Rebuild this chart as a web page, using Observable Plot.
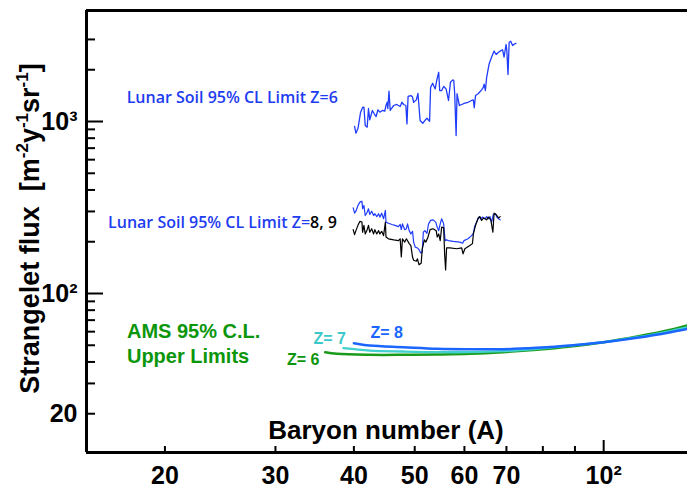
<!DOCTYPE html>
<html><head><meta charset="utf-8">
<script src="https://cdn.jsdelivr.net/npm/d3@7"></script>
<script src="https://cdn.jsdelivr.net/npm/@observablehq/plot@0.6"></script>
<style>
html,body{margin:0;padding:0;background:#fff;}
#chart svg{display:block;}
</style></head><body><div id="chart"></div>
<script>
// ---- scales & ticks ----
const xDomain = [15, 136];
const yDomain = [11.9, 4420];
const xMinorTicks = [20, 30, 40, 50, 60, 70, 80, 90];
const xMajorTicks = [100];
const xTickLabels = [20, 30, 40, 50, 60, 70, 100];
const yMinorTicks = [20, 30, 40, 50, 60, 70, 80, 90, 200, 300, 400, 500, 600, 700, 800, 900, 2000, 3000];
const yMajorTicks = [100, 1000];
const yTickLabels = [20, 100, 1000];

// ---- Lunar soil 95% CL limits [A, flux] ----
const lunarZ6 = [[40.1,936],[40.3,855],[40.6,910],[41.0,1133],[41.3,1207],[41.5,1212],[41.7,948],[42.0,927],[42.2,1190],[42.4,1023],[42.8,1159],[43.1,1109],[43.4,1069],[43.7,1170],[44.0,1133],[44.4,1159],[44.8,1148],[45.0,1239],[45.2,1294],[45.3,1190],[45.5,1500],[45.7,1159],[46.0,1202],[46.3,1239],[46.8,1256],[47.4,1223],[47.7,1294],[48.0,1256],[48.4,1239],[48.6,969],[48.8,1398],[49.3,1416],[49.6,1387],[49.8,1294],[50.3,1336],[50.6,1455],[51.0,1013],[51.5,977],[52.0,1023],[52.3,1045],[52.8,1004],[53.0,1580],[53.4,1669],[53.9,1547],[54.2,1731],[54.6,1933],[54.8,1514],[55.2,1514],[55.6,1599],[56.1,1547],[56.6,1325],[57.0,1692],[57.5,1746],[57.7,1731],[57.9,1450],[58.2,829],[58.4,1450],[58.9,1239],[59.4,1256],[60.1,1280],[60.8,1294],[61.6,1325],[62.0,1336],[62.2,1202],[62.5,1416],[63.1,1450],[63.9,1528],[64.3,1580],[64.5,1650],[64.8,1514],[65.1,1808],[65.7,2167],[66.3,2371],[66.9,2566],[67.4,2452],[68.0,2530],[68.4,2566],[69.0,2614],[69.4,2371],[69.9,2804],[70.1,2587],[70.4,1875],[70.7,2891],[71.1,2930],[71.6,2766],[72.2,2830],[72.5,2852]];
const lunarZ8 = [[39.9,315],[40.1,293],[40.3,301],[40.6,325],[40.9,340],[41.2,344],[41.3,311],[41.5,325],[41.7,284],[42.0,297],[42.2,311],[42.4,288],[42.7,301],[43.0,284],[43.2,291],[43.5,280],[43.8,291],[44.0,278],[44.3,293],[44.6,272],[44.9,304],[45.0,260],[45.4,256],[46.0,252],[46.5,249],[47.1,245],[47.4,252],[47.6,235],[47.8,254],[48.2,235],[48.5,238],[48.7,254],[49.0,232],[49.3,222],[49.6,230],[49.8,199],[50.1,186],[50.5,184],[50.8,180],[51.1,172],[51.4,174],[51.6,227],[51.9,232],[52.3,224],[52.6,254],[53.0,266],[53.5,268],[54.0,260],[54.3,243],[54.6,232],[54.9,254],[55.2,272],[55.6,254],[55.9,203],[56.2,205],[56.6,203],[57.6,201],[59.0,199],[59.6,196],[59.9,203],[60.8,208],[61.6,217],[62.0,224],[62.3,245],[62.9,266],[63.3,278],[63.7,272],[64.1,278],[64.7,272],[65.1,280],[65.5,272],[65.9,280],[66.3,260],[66.7,288],[67.2,291],[67.6,278],[68.0,272],[68.4,268]];
const lunarZ9 = [[39.9,235],[40.1,220],[40.3,232],[40.6,249],[40.9,263],[41.2,260],[41.3,227],[41.5,249],[41.7,222],[42.0,235],[42.2,249],[42.4,227],[42.7,238],[43.0,222],[43.2,235],[43.5,222],[43.8,232],[44.0,222],[44.3,230],[44.6,217],[44.9,260],[45.0,213],[45.4,208],[46.3,205],[47.1,203],[47.4,208],[47.6,163],[47.8,208],[48.2,199],[48.5,208],[49.0,195],[49.3,190],[49.6,163],[49.8,156],[50.3,154],[50.5,159],[50.8,147],[51.2,150],[51.4,182],[51.8,205],[52.1,199],[52.5,213],[52.9,235],[53.5,238],[54.1,232],[54.3,213],[54.6,222],[54.9,203],[55.2,243],[55.6,241],[55.8,170],[56.0,137],[56.2,184],[56.9,184],[58.3,182],[59.4,184],[59.7,170],[60.1,182],[61.2,190],[61.8,195],[62.0,222],[62.5,249],[63.1,275],[63.5,280],[63.9,266],[64.4,275],[65.1,268],[65.5,278],[66.1,268],[66.6,227],[66.9,293],[67.4,288],[68.0,275],[68.4,280]];

// ---- AMS 95% C.L. upper limits [A, flux] ----
const amsZ6 = [[36.0,45.6],[37.6,44.6],[42.4,44.0],[48.0,44.0],[54.3,44.2],[61.2,44.6],[69.1,45.6],[78.2,47.1],[88.5,49.2],[100,52.1],[113.1,56.2],[127.8,61.5],[136,65.2]];
const amsZ7 = [[38.5,48.1],[42.4,46.6],[48.0,46.0],[54.3,45.6],[61.2,45.6],[69.1,46.2],[78.2,47.7],[88.5,49.8],[100,52.1],[113.1,55.7],[127.8,60.5],[136,63.5]];
const amsZ8 = [[40.0,51.4],[42.4,49.8],[48.0,48.7],[54.3,47.7],[61.2,47.4],[69.1,47.4],[78.2,48.3],[88.5,49.8],[100,52.1],[113.1,55.3],[127.8,59.6],[136,62.3]];

const BOLD = "'Liberation Sans', Arial, Helvetica, sans-serif";
const MYR = "'Open Sans', 'Noto Sans', sans-serif";
const fmt = d => d === 100 ? "10\u00B2" : d === 1000 ? "10\u00B3" : String(d);
const px = d => d[0], py = d => d[1];

const plot = Plot.plot({
  width: 687, height: 490,
  marginLeft: 86, marginRight: 0, marginTop: 10, marginBottom: 38,
  x: {type: "log", domain: xDomain},
  y: {type: "log", domain: yDomain},
  marks: [
    // ticks (inward)
    Plot.ruleX(xMinorTicks, {stroke: "#000", strokeWidth: 2, insetTop: 436}),
    Plot.ruleX(xMajorTicks, {stroke: "#000", strokeWidth: 2, insetTop: 430}),
    Plot.ruleY(yMinorTicks, {stroke: "#000", strokeWidth: 2, insetRight: 592}),
    Plot.ruleY(yMajorTicks, {stroke: "#000", strokeWidth: 2, insetRight: 584}),
    Plot.axisX({ticks: xTickLabels, tickFormat: fmt, tickSize: 0, tickPadding: 14, label: null,
      fontSize: 25, fontWeight: "bold", fontFamily: BOLD, fill: "#000"}),
    Plot.axisY({ticks: yTickLabels, tickFormat: fmt, tickSize: 0, tickPadding: 9, label: null,
      fontSize: 25, fontWeight: "bold", fontFamily: BOLD, fill: "#000"}),
    // frame lines
    Plot.ruleY([yDomain[1]], {stroke: "#000", strokeWidth: 3}),
    Plot.ruleY([yDomain[0]], {stroke: "#000", strokeWidth: 3}),
    Plot.ruleX([xDomain[0]], {stroke: "#000", strokeWidth: 3}),
    // lunar soil
    Plot.line(lunarZ6, {x: px, y: py, stroke: "#1e3cfa", strokeWidth: 1.3}),
    Plot.line(lunarZ8, {x: px, y: py, stroke: "#1e3cfa", strokeWidth: 1.2}),
    Plot.line(lunarZ9, {x: px, y: py, stroke: "#000", strokeWidth: 1.2}),
    // AMS
    Plot.line(amsZ6, {x: px, y: py, stroke: "#1a9a1a", strokeWidth: 2.5, curve: "catmull-rom"}),
    Plot.line(amsZ7, {x: px, y: py, stroke: "#40d0d0", strokeWidth: 2.3, curve: "catmull-rom"}),
    Plot.line(amsZ8, {x: px, y: py, stroke: "#1a66ff", strokeWidth: 2.5, curve: "catmull-rom"}),
    // annotations
    Plot.text(["Lunar Soil 95% CL Limit Z=6"], {x: 25.6, y: 1273, text: d => d, textAnchor: "middle", lineAnchor: "bottom",
      fontSize: 16, fontWeight: 600, fontFamily: MYR, fill: "#1e3cf0"}),
    Plot.text(["Lunar Soil 95% CL Limit Z=8, 9"], {x: 24.7, y: 239, text: d => d, textAnchor: "middle", lineAnchor: "bottom",
      fontSize: 16, fontWeight: 600, fontFamily: MYR, fill: "#1e3cf0"}),
    Plot.text(["AMS 95% C.L."], {x: 17.4, y: 55.3, text: d => d, textAnchor: "start", lineAnchor: "bottom",
      fontSize: 20, fontWeight: "bold", fontFamily: BOLD, fill: "#0c960c"}),
    Plot.text(["Upper Limits"], {x: 17.4, y: 39.3, text: d => d, textAnchor: "start", lineAnchor: "bottom",
      fontSize: 20, fontWeight: "bold", fontFamily: BOLD, fill: "#0c960c"}),
    Plot.text(["Z= 6"], {x: 31.3, y: 38.2, text: d => d, textAnchor: "start", lineAnchor: "bottom",
      fontSize: 16, fontWeight: "bold", fontFamily: BOLD, fill: "#0c960c"}),
    Plot.text(["Z= 7"], {x: 34.5, y: 51.0, text: d => d, textAnchor: "start", lineAnchor: "bottom",
      fontSize: 16, fontWeight: "bold", fontFamily: BOLD, fill: "#3cc8c8"}),
    Plot.text(["Z= 8"], {x: 42.5, y: 55.3, text: d => d, textAnchor: "start", lineAnchor: "bottom",
      fontSize: 16, fontWeight: "bold", fontFamily: BOLD, fill: "#1a66ff"}),
    Plot.text(["Baryon number (A)"], {x: 45.0, y: 14.35, text: d => d, textAnchor: "middle", lineAnchor: "bottom",
      fontSize: 26, fontWeight: "bold", fontFamily: BOLD, fill: "#000"})
  ]
});
document.getElementById("chart").appendChild(plot);

const svg = d3.select(plot);
// two-coloured label
svg.selectAll("text").filter(function(){ return this.textContent === "Lunar Soil 95% CL Limit Z=8, 9"; })
  .each(function(){
    const el = d3.select(this);
    el.text("");
    el.append("tspan").text("Lunar Soil 95% CL Limit Z=");
    el.append("tspan").attr("fill", "#000").text("8, 9");
  });
// y axis title with superscripts
const yt = svg.append("text")
  .attr("transform", "translate(39,228.5) rotate(-90)")
  .attr("text-anchor", "middle")
  .attr("font-family", BOLD).attr("font-weight", "bold").attr("font-size", 27)
  .attr("fill", "#000").style("white-space", "pre");
yt.append("tspan").text("Strangelet flux  [m");
yt.append("tspan").attr("font-size", 17).attr("dy", -11).text("-2");
yt.append("tspan").attr("dy", 11).text("y");
yt.append("tspan").attr("font-size", 17).attr("dy", -11).text("-1");
yt.append("tspan").attr("dy", 11).text("sr");
yt.append("tspan").attr("font-size", 17).attr("dy", -11).text("-1");
yt.append("tspan").attr("dy", 11).text("]");
</script>
</body></html>
